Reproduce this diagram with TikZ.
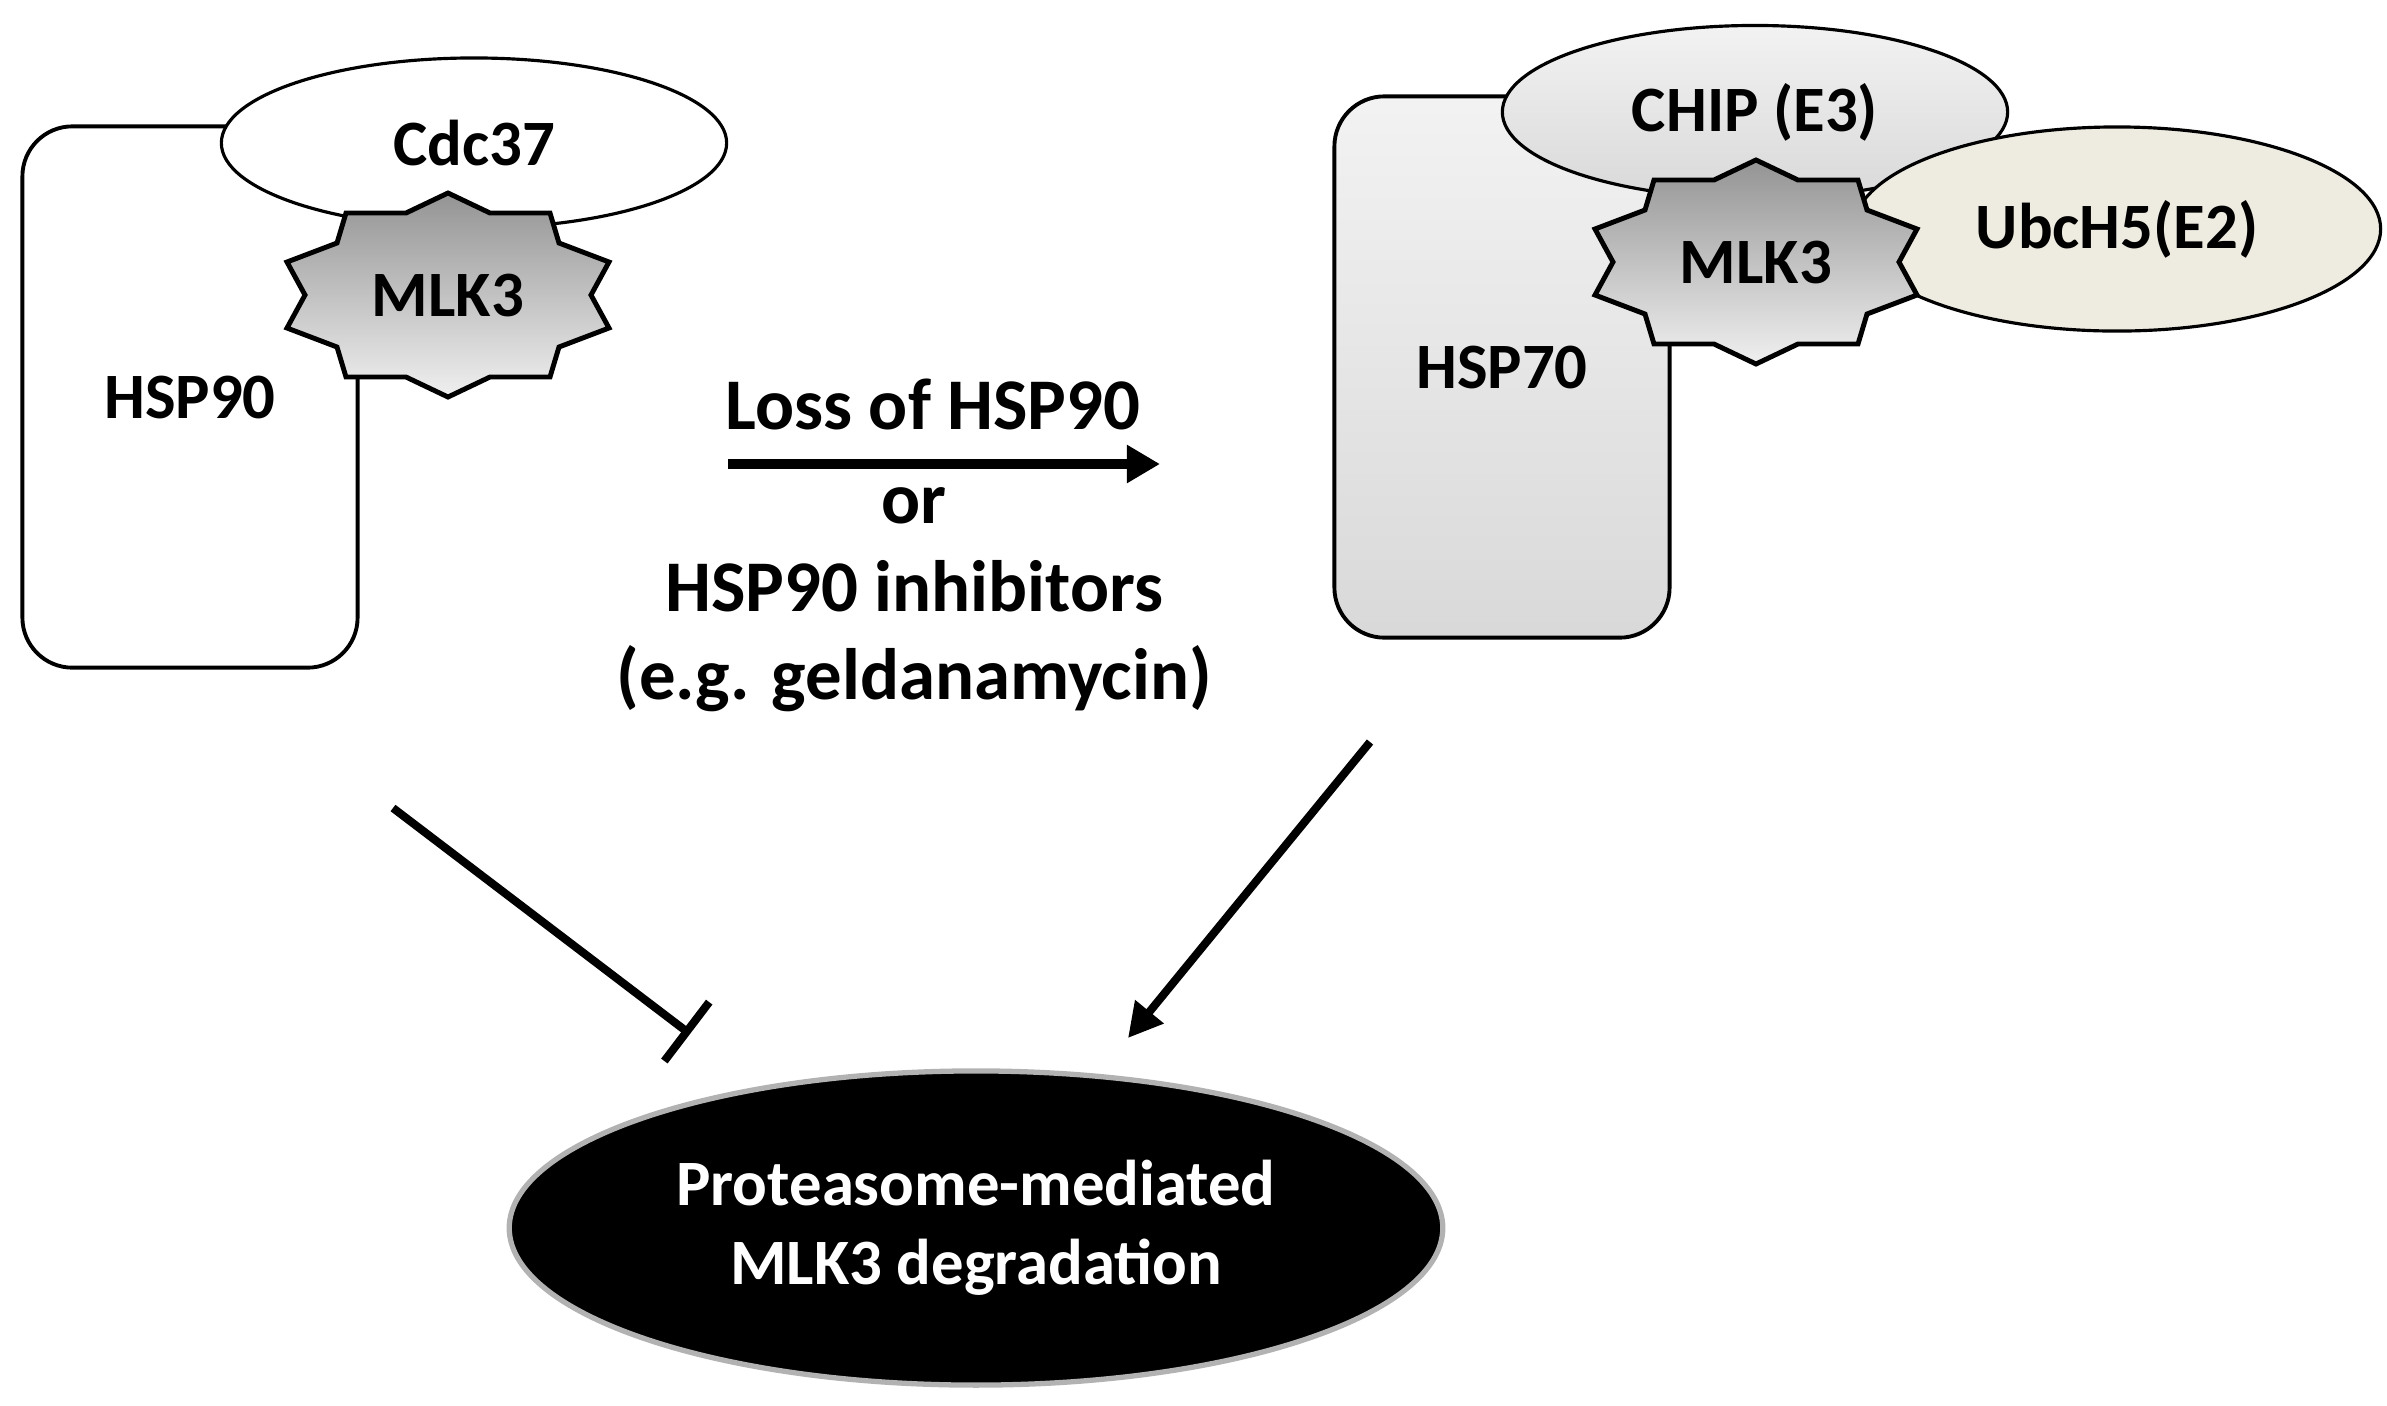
\documentclass[tikz,border=0pt]{standalone}
\usepackage{fontspec}
\setmainfont{Carlito}
\usetikzlibrary{shapes.geometric, arrows.meta}
\definecolor{ubcbeige}{HTML}{EEECE1}
\tikzset{
	lbl/.style={font=\fontsize{18.4}{22.5}\bfseries\selectfont},
	midtext/.style={font=\fontsize{20.7}{25}\bfseries\selectfont, align=center},
	chaperone/.style={draw, line width=1.1pt, rounded corners=0.5cm, minimum width=3.35cm, minimum height=5.41cm, inner sep=0, lbl},
	cochap/.style={ellipse, draw, line width=0.9pt, inner sep=0, lbl},
	kinase/.style={draw, line width=1.4pt, line join=miter, top color=black!42, bottom color=black!6},
}
% 10 point seal, drawn round a center
\newcommand\mlkseal[1]{%
	\path[kinase, shift={#1}] (0,-102) -- (42,-82) -- (102,-82) -- (111,-52) -- (161,-33) -- (143,0)
		-- (161,33) -- (111,52) -- (102,82) -- (42,82) -- (0,102) -- (-42,82) -- (-102,82) -- (-111,52)
		-- (-161,33) -- (-143,0) -- (-161,-33) -- (-111,-52) -- (-102,-82) -- (-42,-82) -- cycle;}
\begin{document}
\begin{tikzpicture}[x=0.01cm, y=-0.01cm]
	\useasboundingbox (0,0) rectangle (2387,1405);
	% HSP90 / Cdc37 complex
	\node[chaperone, fill=white] (hsp90) at (190,397) {HSP90};
	\node[cochap, fill=white, minimum width=5.05cm, minimum height=1.70cm] (cdc37) at (474,143) {Cdc37};
	\mlkseal{(448,295)}
	\node[lbl] (mlkA) at (448,295) {MLK3};
	% HSP70 / CHIP complex
	\node[chaperone, top color=black!5, bottom color=black!15] (hsp70) at (1502,367) {HSP70};
	\node[cochap, top color=black!5, bottom color=black!15, minimum width=5.05cm, minimum height=1.73cm] (chip) at (1755,112) {CHIP (E3)};
	\node[cochap, fill=ubcbeige, minimum width=5.27cm, minimum height=2.04cm] (ubch5) at (2117,229) {UbcH5(E2)};
	\mlkseal{(1756,262)}
	\node[lbl] (mlkB) at (1756,262) {MLK3};
	% switch
	\node[midtext] (loss) at (933,404) {Loss of HSP90};
	\node[midtext] (inhib) at (914,600) {or\\HSP90 inhibitors\\(e.g. geldanamycin)};
	\coordinate (shiftA) at (728,464);
	\coordinate (shiftB) at (1160,464);
	\draw[line width=2.8pt, -{Triangle[length=0.33cm, width=0.36cm]}] (shiftA) -- (shiftB);
	% degradation
	\node[ellipse, fill=black, draw=black!30, line width=1.5pt, inner sep=0, minimum width=9.33cm, minimum height=3.14cm, text=white, lbl, align=center] (degr) at (976,1228) {Proteasome-mediated\\MLK3 degradation};
	\coordinate (blockA) at (393,808);
	\coordinate (blockB) at (690,1034);
	\draw[line width=2.3pt, -{Bar[width=0.74cm]}] (blockA) -- (blockB);
	\coordinate (degA) at (1370,742);
	\coordinate (degB) at (1128,1038);
	\draw[line width=2.3pt, -{Triangle[length=0.34cm, width=0.35cm]}] (degA) -- (degB);
\end{tikzpicture}
\end{document}
